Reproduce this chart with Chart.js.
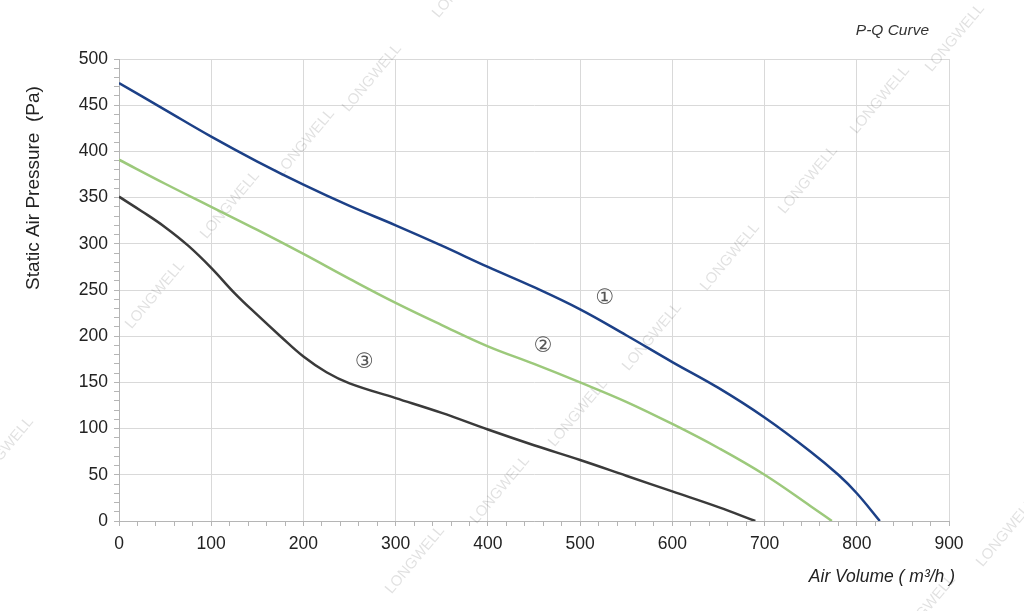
<!DOCTYPE html>
<html><head><meta charset="utf-8">
<script src="https://cdn.jsdelivr.net/npm/chart.js@4.4.1/dist/chart.umd.min.js"></script>
<style>html,body{margin:0;padding:0;background:#fff;}</style>
</head><body>
<canvas id="c" width="1024" height="611"></canvas>
<script>
// ---- data ----
const curve1X = [0,50,100,150,200,250,300,350,400,450,500,550,600,650,700,750,780,800,825];
const curve1Y = [474,445,416,389,364,341,320,298,275,253,229,201,172,144,112,75,50,30,0];
const curve2X = [0,50,100,150,200,250,300,350,400,450,500,550,600,650,700,750,773];
const curve2Y = [391,365,340,315,289,262,236,212,189,170,150,129,105,79,50,16,0];
const curve3X = [0,25,50,75,100,125,150,175,200,225,250,300,350,400,450,500,550,600,650,690];
const curve3Y = [351,335,318,298,274,247,223,200,178,161,149,133,117,99,82,66,49,32,15,0];
const seriesNames = ['①','②','③'];
const markerX = [527,460,266];
const markerY = [241,189,172];
const chartTitle = 'P-Q Curve';
const xTitle = 'Air Volume ( m³/h )';
const yTitle = 'Static Air Pressure  (Pa)';
const watermarkText = 'LONGWELL';

const toPts = (xs, ys) => xs.map((x, i) => ({x, y: ys[i]}));
const FONT = '"Liberation Sans", Arial, sans-serif';

const markerPlugin = {
  id: 'markers',
  afterDatasetsDraw(chart) {
    const {ctx, scales: {x, y}} = chart;
    ctx.save();
    ctx.font = '21px "DejaVu Sans", sans-serif';
    ctx.fillStyle = '#555';
    ctx.textAlign = 'center';
    ctx.textBaseline = 'middle';
    seriesNames.forEach((s, i) => {
      ctx.fillText(s, x.getPixelForValue(markerX[i]), y.getPixelForValue(markerY[i]));
    });
    ctx.restore();
  }
};

const titlePlugin = {
  id: 'texts',
  afterDraw(chart) {
    const {ctx} = chart;
    ctx.save();
    ctx.fillStyle = '#333';
    ctx.textBaseline = 'middle';
    ctx.font = 'italic 15.5px ' + FONT;
    ctx.textAlign = 'right';
    ctx.fillText(chartTitle, 929, 31);
    ctx.fillStyle = '#222';
    ctx.font = 'italic 17.5px ' + FONT;
    ctx.fillText(xTitle, 955, 577);
    ctx.translate(34, 188);
    ctx.rotate(-Math.PI / 2);
    ctx.textAlign = 'center';
    ctx.font = '19px ' + FONT;
    ctx.fillText(yTitle, 0, 0);
    ctx.restore();
  }
};

const wmCenters = [[4,451],[155,295],[230,205],[305,143],[372,78],[462,-16],
  [415,560],[500,490],[578,413],[652,337],[730,257],[808,180],[880,100],[955,38],[926,609],[1006,533]];
const watermarkPlugin = {
  id: 'watermark',
  beforeDatasetsDraw(chart) {
    const {ctx} = chart;
    ctx.save();
    ctx.font = '15px ' + FONT;
    ctx.fillStyle = 'rgba(0,0,0,0.12)';
    ctx.textAlign = 'center';
    ctx.textBaseline = 'middle';
    wmCenters.forEach(([cx, cy]) => {
      ctx.save();
      ctx.translate(cx, cy);
      ctx.rotate(-50 * Math.PI / 180);
      ctx.fillText(watermarkText, 0, 0);
      ctx.restore();
    });
    ctx.restore();
  }
};

const ds = (xs, ys, color) => ({
  data: toPts(xs, ys), borderColor: color, borderWidth: 2.5,
  pointRadius: 0, fill: false, tension: 0.4
});

new Chart(document.getElementById('c'), {
  type: 'line',
  data: {
    datasets: [
      ds(curve1X, curve1Y, '#1c4087'),
      ds(curve2X, curve2Y, '#9cc97b'),
      ds(curve3X, curve3Y, '#3a3a3a')
    ]
  },
  options: {
    responsive: false,
    animation: false,
    devicePixelRatio: 1,
    layout: {padding: {left: 0, right: 75, top: 59, bottom: 0}},
    plugins: {legend: {display: false}, tooltip: {enabled: false}},
    scales: {
      x: {
        type: 'linear', min: 0, max: 900,
        afterFit(s) { s.height = 90; },
        ticks: {
          stepSize: 20, autoSkip: false, maxRotation: 0, maxTicksLimit: 200,
          padding: 8, color: '#222', font: {family: FONT, size: 17.5},
          callback: v => (Math.round(v) % 100 === 0 ? String(Math.round(v)) : '')
        },
        grid: {
          tickLength: 5,
          color: c => (c.tick && Math.round(c.tick.value) % 100 === 0 ? '#d9d9d9' : 'rgba(0,0,0,0)'),
          tickColor: '#b5b5b5'
        },
        border: {color: '#b5b5b5'}
      },
      y: {
        min: 0, max: 500,
        afterFit(s) { s.width = 119; },
        ticks: {
          stepSize: 10, autoSkip: false, maxTicksLimit: 200,
          padding: 6, color: '#222', font: {family: FONT, size: 17.5},
          callback: v => (Math.round(v) % 50 === 0 ? String(Math.round(v)) : '')
        },
        grid: {
          tickLength: 5,
          color: c => (c.tick && Math.round(c.tick.value) % 50 === 0 ? '#d9d9d9' : 'rgba(0,0,0,0)'),
          tickColor: '#b5b5b5'
        },
        border: {color: '#b5b5b5'}
      }
    }
  },
  plugins: [watermarkPlugin, markerPlugin, titlePlugin]
});
</script>
</body></html>
